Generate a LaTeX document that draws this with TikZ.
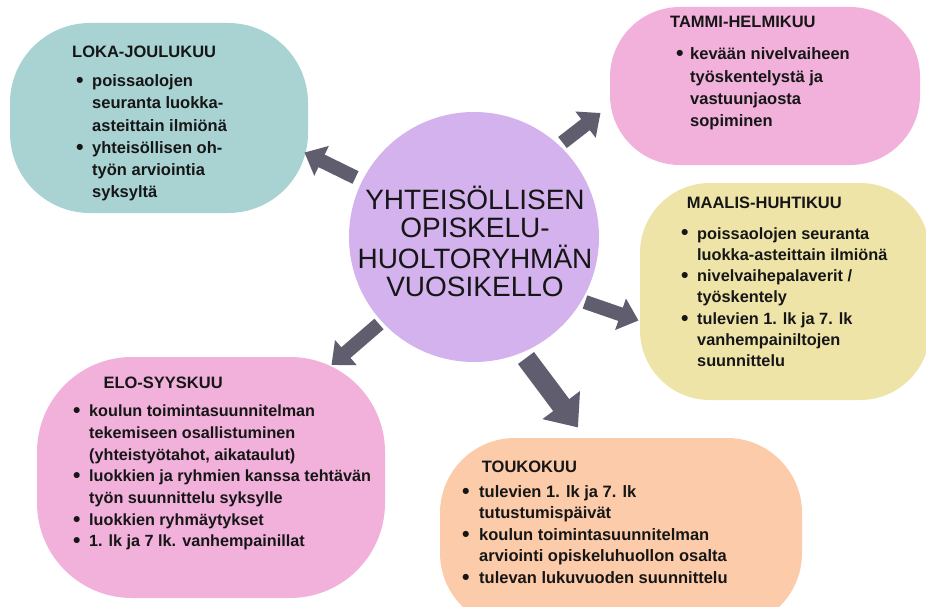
\documentclass[tikz,border=0pt]{standalone}
\usepackage{fontspec}
\usepackage{graphicx}
\setmainfont{Liberation Sans}
\usetikzlibrary{arrows.meta}
\definecolor{cteal}{HTML}{A9D3D3}
\definecolor{cpink}{HTML}{F1B1DB}
\definecolor{cyellow}{HTML}{EEE4A8}
\definecolor{cpeach}{HTML}{FCCBA9}
\definecolor{cpurple}{HTML}{D4B2EE}
\definecolor{carrow}{HTML}{5F5D6E}
\definecolor{ctext}{HTML}{161616}
\newcommand{\bu}[1]{\makebox[#1][l]{\raisebox{-0.05em}{\scalebox{1.3}{•}}}}
\newcommand{\nb}[1]{\hspace*{#1}}
\begin{document}
\begin{tikzpicture}[x=1pt,y=-1pt,
  blob/.style={draw=none, inner sep=0pt, outer sep=0pt},
  ttl/.style={anchor=base west, inner sep=0pt, text=ctext, font=\bfseries\fontsize{16.5}{20}\selectfont},
  lst/.style={anchor=base west, inner sep=0pt, text=ctext},
  arr/.style={draw=carrow, line width=14pt, -{Triangle[width=32pt,length=19pt]}},
  bigarr/.style={draw=carrow, line width=20pt, -{Triangle[width=45pt,length=28pt]}}
]
\useasboundingbox (0,0) rectangle (926,607);
\fill[white] (0,0) rectangle (926,607);

% boxes
\node[blob, fill=cteal, minimum width=298pt, minimum height=190pt, rounded corners=80pt] (loka) at (159,118) {};
\node[blob, fill=cpink, minimum width=310pt, minimum height=158pt, rounded corners=70pt] (tammi) at (765,86) {};
\node[blob, fill=cyellow, minimum width=290pt, minimum height=217pt, rounded corners=70pt] (maalis) at (785,291.5) {};
\node[blob, fill=cpink, minimum width=348pt, minimum height=241pt, rounded corners=95pt] (elo) at (211,477.5) {};
\node[blob, fill=cpeach, minimum width=362pt, minimum height=190pt, rounded corners=75pt] (touko) at (621,533) {};

% centre
\node[blob, circle, fill=cpurple, minimum size=250pt] (c) at (474,237) {};

% arrows
\coordinate (a1s) at (355.5,177.5); \coordinate (a1e) at (304.5,152.5);
\coordinate (a2s) at (562.5,142.5); \coordinate (a2e) at (600.5,113);
\coordinate (a3s) at (585,302);     \coordinate (a3e) at (638.5,320.5);
\coordinate (a4s) at (379,324);     \coordinate (a4e) at (331.5,365);
\coordinate (a5s) at (526,358);     \coordinate (a5e) at (578,427.5);
\draw[arr] (a1s) -- (a1e);
\draw[arr] (a2s) -- (a2e);
\draw[arr] (a3s) -- (a3e);
\draw[arr] (a4s) -- (a4e);
\draw[bigarr] (a5s) -- (a5e);

% centre text
\node[anchor=base, inner sep=0pt, text=ctext] (ctxt) at (475,209.3)
  {\fontsize{28}{27.8}\selectfont\begin{tabular}[t]{@{}c@{}}YHTEISÖLLISEN\\OPISKELU-\\HUOLTORYHMÄN\\VUOSIKELLO\end{tabular}};

% LOKA-JOULUKUU
\node[ttl] (lokat) at (72,58) {LOKA-JOULUKUU};
\node[lst] (lokal) at (76,86.7) {\bfseries\fontsize{16.5}{22.2}\selectfont\begin{tabular}[t]{@{}l@{}}
\bu{16pt}poissaolojen\\
\nb{16pt}seuranta luokka-\\
\nb{16pt}asteittain ilmiönä\\
\bu{16pt}yhteisöllisen oh-\\
\nb{16pt}työn arviointia\\
\nb{16pt}syksyltä\end{tabular}};

% TAMMI-HELMIKUU
\node[ttl] (tammit) at (670,27.3) {TAMMI-HELMIKUU};
\node[lst] (tammil) at (676,60) {\bfseries\fontsize{16.5}{22.2}\selectfont\begin{tabular}[t]{@{}l@{}}
\bu{14pt}kevään nivelvaiheen\\
\nb{14pt}työskentelystä ja\\
\nb{14pt}vastuunjaosta\\
\nb{14pt}sopiminen\end{tabular}};

% MAALIS-HUHTIKUU
\node[ttl] (maalist) at (686.7,208.3) {MAALIS-HUHTIKUU};
\node[lst] (maalisl) at (681,239) {\bfseries\fontsize{16.3}{21.3}\selectfont\begin{tabular}[t]{@{}l@{}}
\bu{16pt}poissaolojen seuranta\\
\nb{16pt}luokka-asteittain ilmiönä\\
\bu{16pt}nivelvaihepalaverit /\\
\nb{16pt}työskentely\\
\bu{16pt}tulevien 1. lk ja 7. lk\\
\nb{16pt}vanhempainiltojen\\
\nb{16pt}suunnittelu\end{tabular}};

% ELO-SYYSKUU
\node[ttl] (elot) at (103.3,388.3) {ELO-SYYSKUU};
\node[lst] (elol) at (73,416.7) {\bfseries\fontsize{16.2}{21.7}\selectfont\begin{tabular}[t]{@{}l@{}}
\bu{16pt}koulun toimintasuunnitelman\\
\nb{16pt}tekemiseen osallistuminen\\
\nb{16pt}(yhteistyötahot, aikataulut)\\
\bu{16pt}luokkien ja ryhmien kanssa tehtävän\\
\nb{16pt}työn suunnittelu syksylle\\
\bu{16pt}luokkien ryhmäytykset\\
\bu{16pt}1. lk ja 7 lk. vanhempainillat\end{tabular}};

% TOUKOKUU
\node[ttl] (toukot) at (481.7,472.3) {TOUKOKUU};
\node[lst] (toukol) at (462,497.3) {\bfseries\fontsize{16.5}{21.5}\selectfont\begin{tabular}[t]{@{}l@{}}
\bu{17pt}tulevien 1. lk ja 7. lk\\
\nb{17pt}tutustumispäivät\\
\bu{17pt}koulun toimintasuunnitelman\\
\nb{17pt}arviointi opiskeluhuollon osalta\\
\bu{17pt}tulevan lukuvuoden suunnittelu\end{tabular}};
\end{tikzpicture}
\end{document}
